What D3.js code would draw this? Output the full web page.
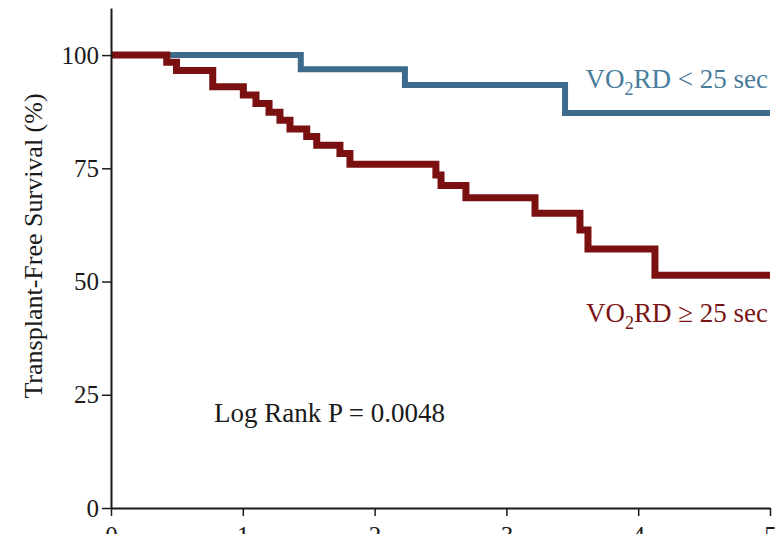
<!DOCTYPE html>
<html>
<head>
<meta charset="utf-8">
<script src="https://cdn.jsdelivr.net/npm/d3@7"></script>
<style>
  html, body { margin: 0; padding: 0; background: #fff; }
  svg { display: block; }
  text { font-family: "Liberation Serif", "Times New Roman", serif; }
</style>
</head>
<body>
<svg id="chart" width="784" height="534"></svg>
<script>
// Kaplan–Meier estimates: step times (years) and survival (%) after each step
const lowTimes = [0, 1.44, 2.23, 3.445, 5];
const lowSurvival = [100, 96.9, 93.4, 87.2, 87.2];

const highTimes = [0, 0.423, 0.497, 0.772, 1.004, 1.100, 1.199, 1.282, 1.358, 1.485,
                   1.561, 1.737, 1.813, 2.465, 2.504, 2.693, 3.217, 3.558, 3.619, 4.127, 5];
const highSurvival = [100, 98.4, 96.6, 93.0, 91.2, 89.3, 87.4, 85.6, 83.7, 82.0,
                      80.1, 78.3, 75.9, 73.5, 71.2, 68.5, 65.1, 61.4, 57.2, 51.4, 51.4];

const yTicks = [0, 25, 50, 75, 100];
const xTicks = [0, 1, 2, 3, 4, 5];

const yTitle = "Transplant-Free Survival (%)";
const pText = "Log Rank P = 0.0048";

const svg = d3.select("#chart");

const x = d3.scaleLinear().domain([0, 5]).range([111, 770]);
const y = d3.scaleLinear().domain([0, 110.4]).range([508, 8]);

const series = [
  { times: lowTimes, surv: lowSurvival, color: "#3e6b8b", width: 6 },
  { times: highTimes, surv: highSurvival, color: "#7a1010", width: 7 }
];

const line = d3.line()
  .x(d => x(d[0]))
  .y(d => y(d[1]))
  .curve(d3.curveStepAfter);

svg.append("g").selectAll("path")
  .data(series)
  .join("path")
  .attr("d", s => line(s.times.map((t, i) => [t, s.surv[i]])))
  .attr("fill", "none")
  .attr("stroke", s => s.color)
  .attr("stroke-width", s => s.width)
  .attr("stroke-linejoin", "miter")
  .attr("stroke-linecap", "butt");

// Axes
const yAxis = svg.append("g")
  .attr("transform", `translate(${x(0)},0)`)
  .call(d3.axisLeft(y).tickValues(yTicks).tickFormat(d3.format("d"))
    .tickSize(9).tickPadding(3).tickSizeOuter(0));

const xAxis = svg.append("g")
  .attr("transform", `translate(0,${y(0)})`)
  .call(d3.axisBottom(x).tickValues(xTicks).tickFormat(d3.format("d"))
    .tickSize(8).tickPadding(10).tickSizeOuter(0));

[yAxis, xAxis].forEach(g => {
  g.selectAll(".domain").attr("stroke", "#1a1a1a").attr("stroke-width", 2);
  g.selectAll(".tick line").attr("stroke", "#1a1a1a").attr("stroke-width", 1.5);
  g.selectAll(".tick text")
    .attr("fill", "#1a1a1a")
    .style("font-family", '"Liberation Serif", "Times New Roman", serif')
    .style("font-size", "25px");
});

// Y axis title
svg.append("text")
  .attr("transform", `translate(42,${246}) rotate(-90)`)
  .attr("text-anchor", "middle")
  .attr("fill", "#1a1a1a")
  .style("font-size", "26px")
  .text(yTitle);

// Group labels
function groupLabel(yPos, rel, color) {
  const t = svg.append("text")
    .attr("x", 768)
    .attr("y", yPos)
    .attr("text-anchor", "end")
    .attr("fill", color)
    .style("font-size", "27px");
  t.append("tspan").text("VO");
  t.append("tspan").attr("dy", 7).style("font-size", "18px").text("2");
  t.append("tspan").attr("dy", -7).text(`RD ${rel} 25 sec`);
}
groupLabel(88, "<", "#4a7d9c");
groupLabel(322, "\u2265", "#7a1414");

svg.append("text")
  .attr("x", 214)
  .attr("y", 422)
  .attr("fill", "#1a1a1a")
  .style("font-size", "27px")
  .text(pText);
</script>
</body>
</html>
